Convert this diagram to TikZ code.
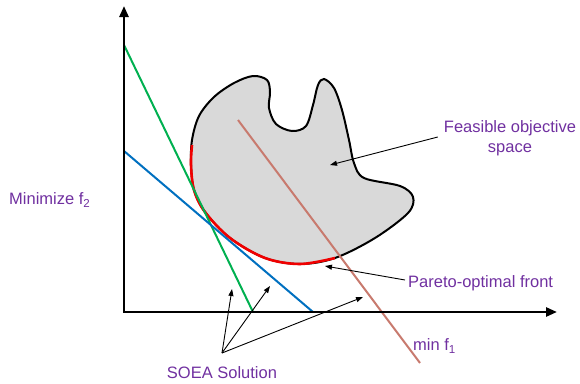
\documentclass[tikz,border=0pt]{standalone}
\usepackage{fontspec}
\setmainfont{Liberation Sans}
\usetikzlibrary{arrows.meta}
\definecolor{blobfill}{RGB}{217,217,217}
\definecolor{txtpurple}{RGB}{112,48,160}
\definecolor{lgreen}{RGB}{0,176,80}
\definecolor{lblue}{RGB}{0,112,192}
\definecolor{lbrown}{RGB}{200,122,110}
\definecolor{pred}{RGB}{240,0,0}
\begin{document}
\begin{tikzpicture}[x=1pt,y=-1pt,
  lbl/.style={text=txtpurple, font=\fontsize{16.5}{20}\selectfont, inner sep=0pt},
  pointer/.style={-{Triangle[length=7pt,width=5pt]}, line width=0.9pt},
  axisline/.style={line width=2.5pt, {Triangle[length=11pt,width=9pt]}-{Triangle[length=11pt,width=9pt]}},
  objline/.style={line width=2pt},
  blob/.style={fill=blobfill, draw=black, line width=2pt},
  front/.style={draw=pred, line width=2.6pt}]
\useasboundingbox (0,0) rectangle (580,383);

% feasible objective space
\draw[blob] plot[smooth cycle, tension=0.55] coordinates {
 (191,165) (192,140) (199,116) (214,97) (234,83) (253,76) (267,80) (270,92)
 (269,108) (276,124) (292,131) (306,126) (313,105) (318,85) (324,79) (334,88)
 (342,110) (349,140) (354,163) (364,178) (400,186) (413,197) (408,213)
 (375,238) (335,258) (300,264) (265,258) (230,238) (205,212) (194,190)};
% Pareto-optimal front
\draw[front] plot[smooth, tension=0.55] coordinates {
 (192,145) (191,165) (194,190) (205,212) (230,238) (265,258) (300,264) (335,258)};

% lines
\coordinate (b1) at (238,120); \coordinate (b2) at (420,363);
\coordinate (g1) at (124,45);  \coordinate (g2) at (253,312);
\coordinate (u1) at (124,151); \coordinate (u2) at (313,312);
\draw[objline, lbrown] (b1) -- (b2);
\draw[objline, lgreen] (g1) -- (g2);
\draw[objline, lblue] (u1) -- (u2);

% axes
\coordinate (O) at (124,312);
\coordinate (ytop) at (124,6);
\coordinate (xend) at (557,312);
\draw[axisline] (ytop) -- (O) -- (xend);

% labels
\node[lbl, anchor=west] (f2) at (9,200) {Minimize f\textsubscript{2}};
\node[lbl, align=center] (feas) at (510,138) {Feasible objective\\space};
\node[lbl, anchor=west] (par) at (408,283) {Pareto-optimal front};
\node[lbl, anchor=west] (minf) at (413,346) {min f\textsubscript{1}};
\node[lbl] (soea) at (222,373) {SOEA Solution};

% pointers
\coordinate (fs) at (330,165);
\coordinate (pf) at (325,266);
\coordinate (s0) at (222,353);
\coordinate (t1) at (232,289);
\coordinate (t2) at (270,286);
\coordinate (t3) at (363,297);
\draw[pointer] ([xshift=-6pt,yshift=1pt]feas.west) -- (fs);
\draw[pointer] ([xshift=-3pt,yshift=3pt]par.west) -- (pf);
\draw[pointer] (s0) -- (t1);
\draw[pointer] (s0) -- (t2);
\draw[pointer] (s0) -- (t3);
\end{tikzpicture}
\end{document}
